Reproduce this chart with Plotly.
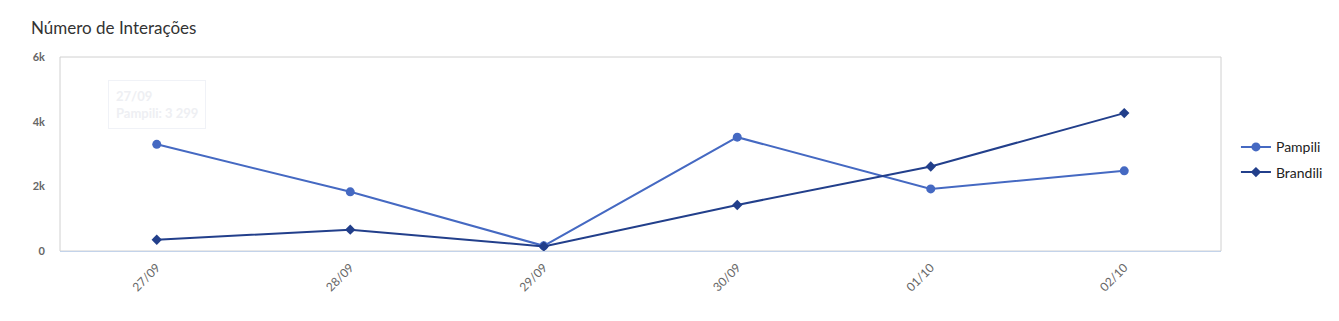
import plotly.graph_objects as go

categories = ["27/09", "28/09", "29/09", "30/09", "01/10", "02/10"]
pampili = [3299, 1830, 160, 3520, 1920, 2480]
brandili = [350, 660, 140, 1425, 2615, 4265]
y_tickvals = [0, 2000, 4000, 6000]
y_ticktext = ["0", "2k", "4k", "6k"]

PAMPILI_COLOR = "#4569c2"
BRANDILI_COLOR = "#223f8b"

fig = go.Figure()
fig.add_trace(go.Scatter(
    x=categories, y=pampili, name="Pampili", mode="lines+markers",
    legendgroup="a",
    line=dict(color=PAMPILI_COLOR, width=2),
    marker=dict(symbol="circle", size=9, color=PAMPILI_COLOR),
))
fig.add_trace(go.Scatter(
    x=categories, y=brandili, name="Brandili", mode="lines+markers",
    legendgroup="b",
    line=dict(color=BRANDILI_COLOR, width=2),
    marker=dict(symbol="diamond", size=8, color=BRANDILI_COLOR),
))

# faint tooltip
fig.add_annotation(
    x=categories[0], y=pampili[0], xref="x", yref="y",
    text="<b>%s</b><br><b>Pampili: 3 299</b>" % categories[0],
    showarrow=False, yshift=40, align="left",
    font=dict(family="Lato", size=13, color="#eeeff3"),
    bgcolor="rgba(255,255,255,0.9)", bordercolor="#f0f2f7", borderwidth=1,
    borderpad=7,
)

# plot frame
fig.add_shape(type="rect", xref="paper", yref="paper", x0=0, y0=0, x1=1, y1=1,
              line=dict(color="#d0d0d0", width=1), layer="below")

fig.update_layout(
    width=1339, height=321,
    margin=dict(l=60, r=117, t=57, b=70),
    paper_bgcolor="white", plot_bgcolor="white",
    font=dict(family="Lato", color="#333333"),
    title=dict(text="Número de Interações", x=31/1339, xanchor="left",
               y=1 - 28/321, yanchor="middle",
               font=dict(family="Lato", size=17, color="#333333")),
    showlegend=True,
    legend=dict(x=1.012, xanchor="left", y=0.47, yanchor="middle",
                font=dict(family="Lato", size=14, color="#222222"),
                tracegroupgap=4, itemwidth=30),
    hovermode="closest",
)
fig.update_xaxes(
    type="category", range=[-0.5, 5.5],
    showgrid=False, zeroline=False,
    showline=True, linecolor="#c3d3ea", linewidth=1,
    tickangle=-45, tickfont=dict(family="Lato", size=12, color="#666666"),
    ticks="", ticklabelstandoff=4,
)
fig.update_yaxes(
    range=[0, 6000], tickvals=y_tickvals, ticktext=y_ticktext,
    showgrid=False, zeroline=False, showline=False,
    tickfont=dict(family="Lato", size=11, color="#666666", weight="bold"),
    ticks="", ticklabelstandoff=14,
)

fig.write_html("out.html")
